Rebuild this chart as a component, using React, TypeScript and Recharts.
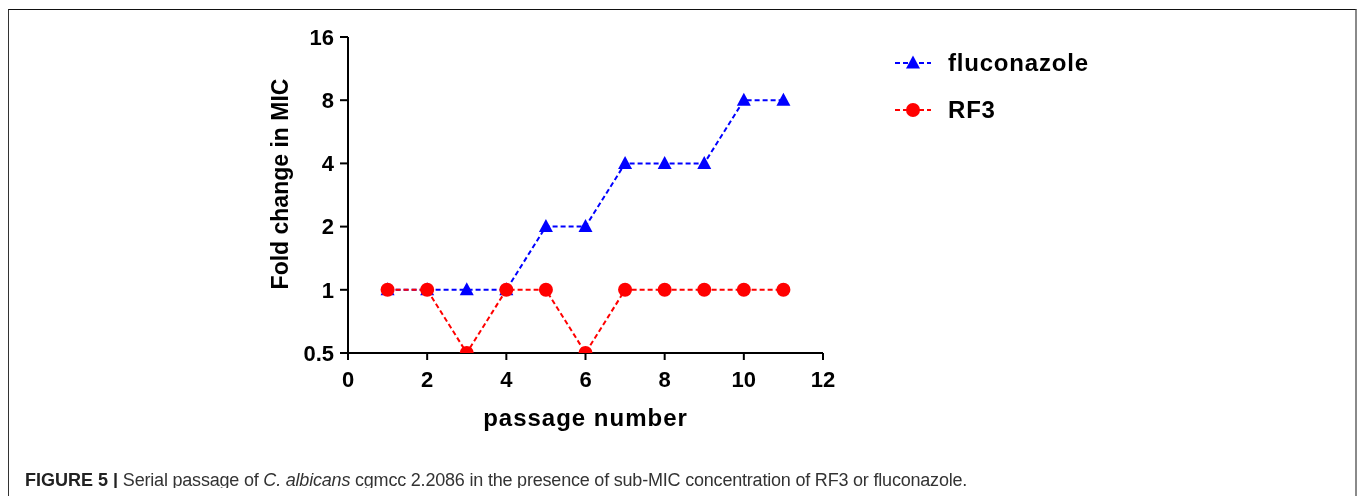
import React from 'react';
import { LineChart, Line, XAxis, YAxis } from 'recharts';

const passages = [1, 2, 3, 4, 5, 6, 7, 8, 9, 10, 11];
const fluconazole = [1, 1, 1, 1, 2, 2, 4, 4, 4, 8, 8];
const rf3 = [1, 1, 0.5, 1, 1, 0.5, 1, 1, 1, 1, 1];
const xTicks = [0, 2, 4, 6, 8, 10, 12];
const yTicks = [0.5, 1, 2, 4, 8, 16];

const data = passages.map((p, i) => ({ passage: p, fluconazole: fluconazole[i], rf3: rf3[i] }));

const FONT = '"Liberation Sans", Arial, Helvetica, sans-serif';
const BLUE = '#0000ff';
const RED = '#ff0000';

const Triangle = (props: any) => {
  const { cx, cy, fill } = props;
  if (cx == null || cy == null) return null;
  return <path d={`M${cx},${cy - 7.5} L${cx - 7},${cy + 5.5} L${cx + 7},${cy + 5.5} Z`} fill={fill} />;
};

const Dot = (props: any) => {
  const { cx, cy, fill } = props;
  if (cx == null || cy == null) return null;
  return <circle cx={cx} cy={cy} r={7} fill={fill} />;
};

const series = [
  { key: 'fluconazole', name: 'fluconazole', color: BLUE, shape: 'triangle' },
  { key: 'rf3', name: 'RF3', color: RED, shape: 'circle' },
];

const LegendBox = () => (
  <div style={{ position: 'absolute', left: 887, top: 31, fontFamily: FONT }}>
    {series.map((s) => (
      <div key={s.key} style={{ display: 'flex', alignItems: 'center', height: 47 }}>
        <svg width={36} height={20} style={{ display: 'block' }}>
          <line x1={0} y1={10} x2={36} y2={10} stroke={s.color} strokeWidth={2} strokeDasharray="5 3" />
          {s.shape === 'triangle' ? (
            <path d="M18,2.5 L11,15.5 L25,15.5 Z" fill={s.color} />
          ) : (
            <circle cx={18} cy={10} r={7} fill={s.color} />
          )}
        </svg>
        <span style={{ marginLeft: 17, fontSize: 24, fontWeight: 'bold', letterSpacing: 0.8, color: '#000' }}>{s.name}</span>
      </div>
    ))}
  </div>
);

const YLabel = (props: any) => {
  const vb = props.viewBox || {};
  const x = vb.x;
  const y = vb.y + vb.height / 2 - 11;
  return (
    <text x={x} y={y} transform={`rotate(-90, ${x}, ${y})`} textAnchor="middle" fontFamily={FONT} fontSize={23} fontWeight="bold" fill="#000">
      Fold change in MIC
    </text>
  );
};

const XLabel = (props: any) => {
  const vb = props.viewBox || {};
  const x = vb.x + vb.width / 2;
  const y = vb.y + 73;
  return (
    <text x={x} y={y} textAnchor="middle" fontFamily={FONT} fontSize={24} fontWeight="bold" letterSpacing={1} fill="#000">
      passage number
    </text>
  );
};

const tickStyle = { fill: '#000', fontSize: 22, fontWeight: 'bold', fontFamily: FONT };

export default function App() {
  return (
    <div style={{ position: 'relative', width: 1342, height: 480, fontFamily: FONT }}>
      <div
        style={{
          position: 'fixed',
          left: 8,
          top: 9,
          width: 1349,
          height: 600,
          borderTop: '1px solid #111',
          borderLeft: '1px solid #333',
          borderRight: '2px solid #8a8a8a',
          boxSizing: 'border-box',
        }}
      />
      <div style={{ position: 'absolute', left: 0, top: 0 }}>
        <LineChart width={1342} height={440} data={data} margin={{ top: 29, right: 527, left: 280, bottom: 65 }}>
          <XAxis
            dataKey="passage"
            type="number"
            domain={[0, 12]}
            ticks={xTicks}
            height={30}
            tickSize={7}
            tickMargin={11}
            axisLine={{ stroke: '#000', strokeWidth: 2 }}
            tickLine={{ stroke: '#000', strokeWidth: 2 }}
            tick={tickStyle}
            label={<XLabel />}
          />
          <YAxis
            type="number"
            scale="log"
            domain={[0.5, 16]}
            ticks={yTicks}
            allowDataOverflow
            width={60}
            tickSize={8}
            tickMargin={6}
            axisLine={{ stroke: '#000', strokeWidth: 2 }}
            tickLine={{ stroke: '#000', strokeWidth: 2 }}
            tick={tickStyle}
            label={<YLabel />}
          />
          <Line
            dataKey="fluconazole"
            name="fluconazole"
            type="linear"
            stroke={BLUE}
            strokeWidth={2}
            strokeDasharray="5 3"
            fill={BLUE}
            dot={<Triangle fill={BLUE} />}
            activeDot={false}
            isAnimationActive={false}
          />
          <Line
            dataKey="rf3"
            name="RF3"
            type="linear"
            stroke={RED}
            strokeWidth={2}
            strokeDasharray="5 3"
            fill={RED}
            dot={<Dot fill={RED} />}
            activeDot={false}
            isAnimationActive={false}
          />
        </LineChart>
      </div>
      <LegendBox />
      <div style={{ position: 'absolute', left: 17, top: 463, fontSize: 18, lineHeight: '18px', color: '#333', whiteSpace: 'nowrap' }}>
        <span style={{ fontWeight: 'bold', color: '#222' }}>FIGURE 5 |</span>
        <span style={{ letterSpacing: -0.2 }}> Serial passage of <i>C. albicans</i> cgmcc 2.2086 in the presence of sub-MIC concentration of RF3 or fluconazole.</span>
      </div>
    </div>
  );
}
